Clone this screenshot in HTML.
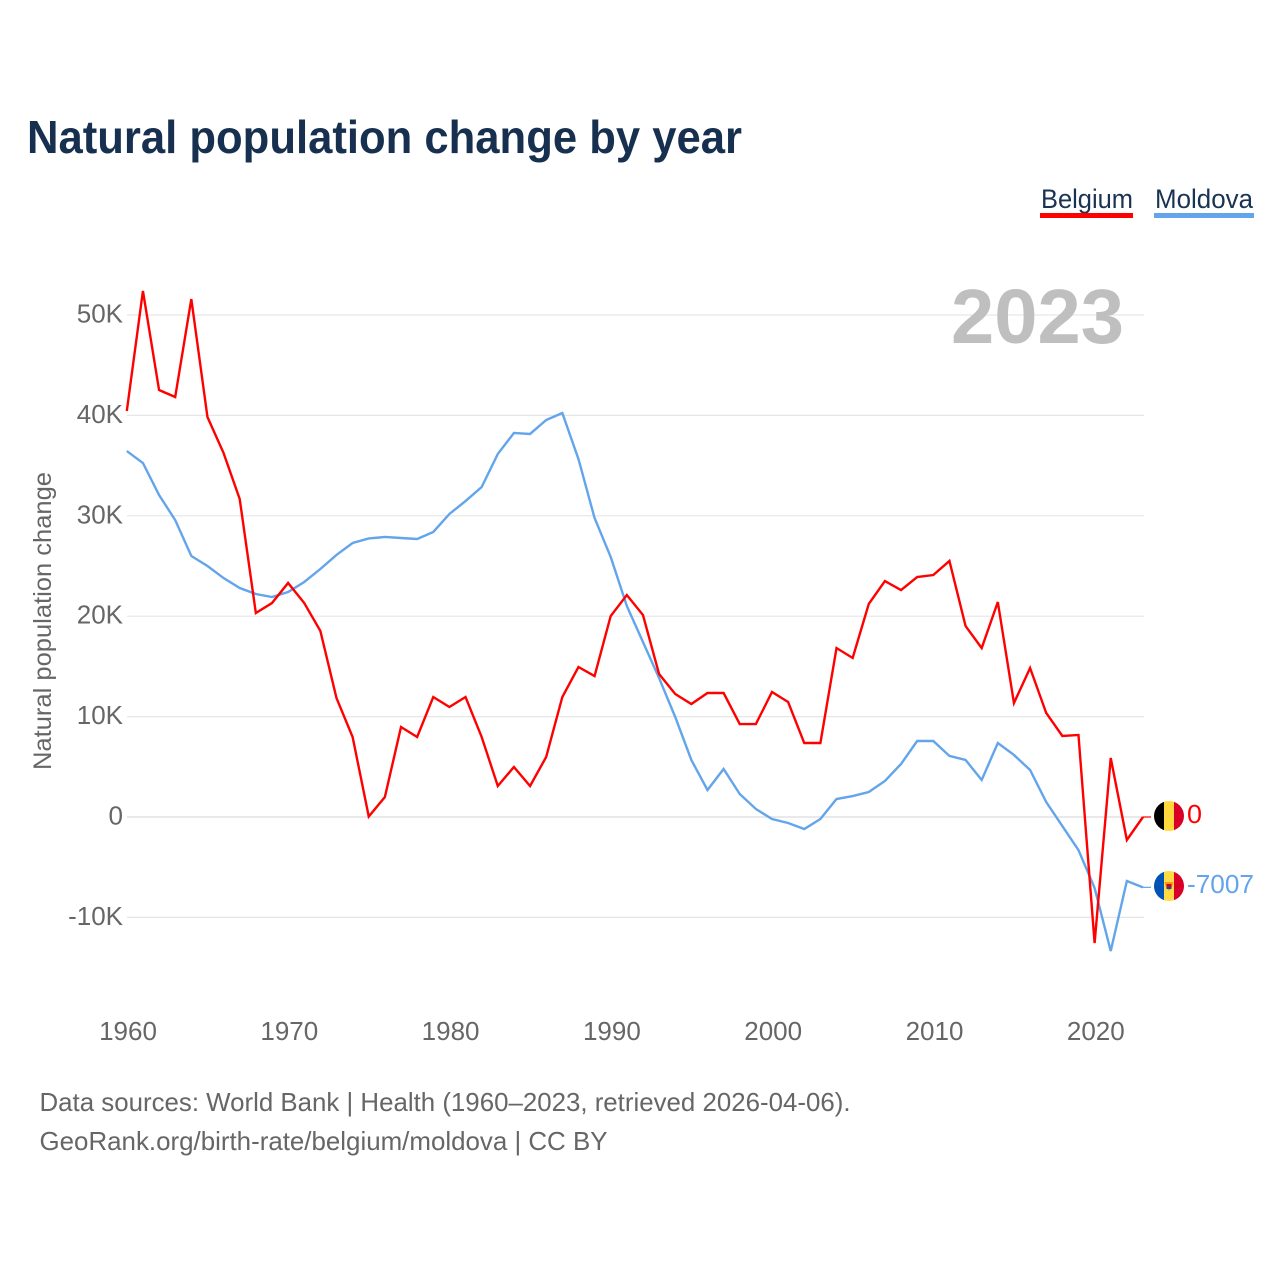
<!DOCTYPE html>
<html lang="en">
<head>
<meta charset="utf-8">
<title>Natural population change by year</title>
<style>
html,body{margin:0;padding:0;background:#fff;width:1280px;height:1280px;overflow:hidden}
svg{display:block}
text{font-family:"Liberation Sans",sans-serif}
</style>
</head>
<body>
<svg id="chart" xmlns="http://www.w3.org/2000/svg" width="1280" height="1280" viewBox="0 0 1280 1280">
  <defs>
    <clipPath id="flag-clip-be"><circle cx="1169" cy="816" r="15"/></clipPath>
    <clipPath id="flag-clip-md"><circle cx="1169" cy="886" r="15"/></clipPath>
  </defs>
  <text x="27" y="153" font-size="46" font-weight="700" fill="#17304f" textLength="715" lengthAdjust="spacingAndGlyphs">Natural population change by year</text>

  <g>
    <text x="1041" y="208" font-size="27" fill="#1a3353" textLength="92" lengthAdjust="spacingAndGlyphs">Belgium</text>
    <rect x="1040" y="213" width="93" height="5" fill="#ff0000"/>
  </g>
  <g>
    <text x="1155" y="208" font-size="27" fill="#1a3353" textLength="98" lengthAdjust="spacingAndGlyphs">Moldova</text>
    <rect x="1154" y="213" width="100" height="5" fill="#62a5eb"/>
  </g>

  <g id="grid"></g>
  <g id="yticks"></g>
  <g id="xticks"></g>

  <text x="951" y="343" font-size="77" font-weight="700" fill="#bfbfbf" textLength="173" lengthAdjust="spacingAndGlyphs">2023</text>

  <text transform="translate(51,770) rotate(-90)" font-size="25" fill="#666666" textLength="298" lengthAdjust="spacingAndGlyphs">Natural population change</text>

  <g id="series"></g>

  <g clip-path="url(#flag-clip-be)">
    <rect x="1154" y="801" width="10" height="30" fill="#000000"/>
    <rect x="1164" y="801" width="10" height="30" fill="#ffd83d"/>
    <rect x="1174" y="801" width="10" height="30" fill="#d80027"/>
  </g>
  <g clip-path="url(#flag-clip-md)">
    <rect x="1154" y="871" width="10" height="30" fill="#0052b4"/>
    <rect x="1164" y="871" width="10" height="30" fill="#ffda44"/>
    <rect x="1174" y="871" width="10" height="30" fill="#d80027"/>
    <path d="M1164.500 882h9l-1.500 5-3 4-3-4z" fill="#ff9811"/>
    <rect x="1166.500" y="884" width="5" height="3" fill="#d80027"/>
    <rect x="1166.500" y="887" width="5" height="2" fill="#0052b4"/>
  </g>

  <text id="value-belgium" x="1187" y="823" font-size="26" fill="#ff0000" textLength="15" lengthAdjust="spacingAndGlyphs"></text>
  <text id="value-moldova" x="1187" y="893" font-size="26" fill="#62a5eb" textLength="67" lengthAdjust="spacingAndGlyphs"></text>

  <text x="39.500" y="1111" font-size="26" fill="#666666" textLength="811" lengthAdjust="spacingAndGlyphs">Data sources: World Bank | Health (1960–2023, retrieved 2026-04-06).</text>
  <text x="39.500" y="1150" font-size="26" fill="#666666" textLength="568" lengthAdjust="spacingAndGlyphs">GeoRank.org/birth-rate/belgium/moldova | CC BY</text>
</svg>
<script>
const firstYear = 1960;
const belgiumValues = [40440,52390,42530,41830,51590,39840,36250,31670,20320,21310,23310,21310,18530,11850,7970,50,1990,8960,7970,11950,10960,11950,7970,3090,4980,3090,5980,11950,14940,14040,20020,22110,20120,14240,12250,11250,12350,12350,9260,9260,12450,11450,7370,7370,16830,15840,21220,23500,22610,23900,24100,25500,19020,16830,21410,11350,14840,10360,8070,8170,-12550,5880,-2290,0];
const moldovaValues = [36450,35260,32070,29580,26000,25000,23800,22810,22210,21910,22410,23410,24700,26100,27290,27740,27890,27790,27690,28390,30180,31470,32870,36160,38250,38150,39540,40240,35660,29780,25900,21020,17430,13840,9960,5680,2690,4780,2290,800,-200,-600,-1200,-200,1790,2090,2490,3590,5280,7570,7570,6080,5680,3690,7370,6180,4680,1490,-900,-3290,-7070,-13350,-6370,-7007];
const yTickValues = [-10000,0,10000,20000,30000,40000,50000];
const yTickLabels = ['-10K','0','10K','20K','30K','40K','50K'];
const xTickYears = [1960,1970,1980,1990,2000,2010,2020];

const NS = 'http://www.w3.org/2000/svg';
const xScale = function (year) { return 126.8 + (year - firstYear) * 16.13; };
const yScale = function (value) { return 817 - value * 0.01004; };
const gridRight = xScale(firstYear + 63) + 1;

const gridGroup = document.getElementById('grid');
const yTickGroup = document.getElementById('yticks');
const xTickGroup = document.getElementById('xticks');
const seriesGroup = document.getElementById('series');

yTickValues.forEach(function (value, i) {
  const line = document.createElementNS(NS, 'line');
  
  
  line.setAttribute('x1', 127);
  line.setAttribute('x2', gridRight);
  line.setAttribute('y1', yScale(value));
  line.setAttribute('y2', yScale(value));
  line.setAttribute('stroke', value === 0 ? '#e2e2e2' : '#e6e6e6');
  line.setAttribute('stroke-width', value === 0 ? 1.5 : 1.2);
  gridGroup.appendChild(line);

  const label = document.createElementNS(NS, 'text');
  
  
  label.setAttribute('x', 123);
  label.setAttribute('y', yScale(value) + 7.5);
  label.setAttribute('text-anchor', 'end');
  label.setAttribute('font-size', '26');
  label.setAttribute('fill', '#666666');
  label.textContent = yTickLabels[i];
  yTickGroup.appendChild(label);
});

xTickYears.forEach(function (year) {
  const label = document.createElementNS(NS, 'text');
  
  
  label.setAttribute('x', xScale(year) + 1.2);
  label.setAttribute('y', 1040);
  label.setAttribute('text-anchor', 'middle');
  label.setAttribute('font-size', '26');
  label.setAttribute('fill', '#666666');
  label.textContent = String(year);
  xTickGroup.appendChild(label);
});

function drawSeries(values, color, name) {
  const points = values.map(function (value, i) {
    return xScale(firstYear + i).toFixed(2) + ',' + yScale(value).toFixed(2);
  }).join(' ');
  const line = document.createElementNS(NS, 'polyline');
  
  
  line.setAttribute('points', points);
  line.setAttribute('fill', 'none');
  line.setAttribute('stroke', color);
  line.setAttribute('stroke-width', '2.4');
  line.setAttribute('stroke-linejoin', 'miter');
  seriesGroup.appendChild(line);

  const lastValue = values[values.length - 1];
  const lastX = xScale(firstYear + values.length - 1);
  const leader = document.createElementNS(NS, 'line');
  
  
  leader.setAttribute('x1', lastX);
  leader.setAttribute('x2', lastX + 8);
  leader.setAttribute('y1', yScale(lastValue));
  leader.setAttribute('y2', yScale(lastValue));
  leader.setAttribute('stroke', color);
  leader.setAttribute('stroke-width', '1.2');
  seriesGroup.appendChild(leader);
}

drawSeries(moldovaValues, '#62a5eb', 'moldova-line');
drawSeries(belgiumValues, '#ff0000', 'belgium-line');

document.getElementById('value-belgium').textContent = String(belgiumValues[belgiumValues.length - 1]);
document.getElementById('value-moldova').textContent = String(moldovaValues[moldovaValues.length - 1]);
</script>
</body>
</html>
